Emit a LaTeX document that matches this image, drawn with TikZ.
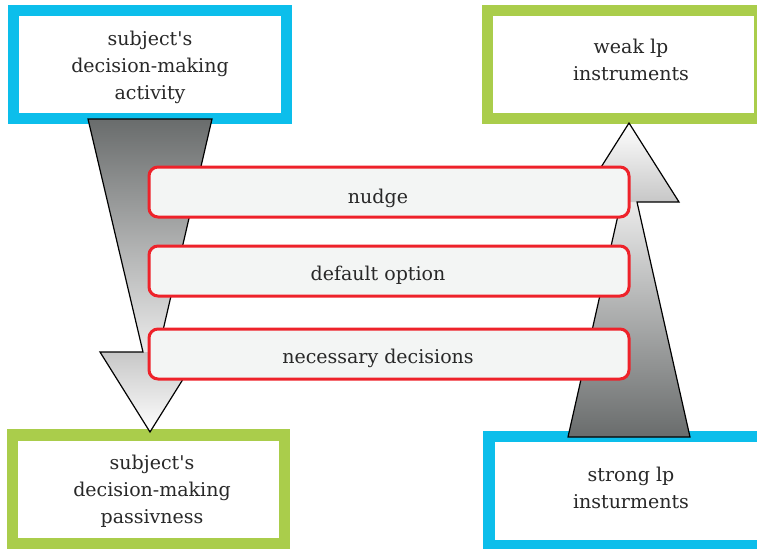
\documentclass[tikz,border=0pt]{standalone}
\usepackage{fontspec}
\setmainfont{DejaVu Serif}[Ligatures=TeXOff]
\definecolor{bluebx}{RGB}{12,190,235}
\definecolor{greenbx}{RGB}{170,205,75}
\definecolor{redbx}{RGB}{238,34,42}
\definecolor{fillbx}{RGB}{243,245,244}
\definecolor{darkar}{RGB}{105,108,108}
\definecolor{txt}{RGB}{40,40,40}
\tikzset{
  lbl/.style={align=center, text=txt, font=\fontsize{19}{27}\selectfont, inner sep=0pt, anchor=base},
  optbox/.style={draw=redbx, line width=3pt, fill=fillbx, rounded corners=9pt, minimum width=480pt, minimum height=50pt, inner sep=0pt},
  arrline/.style={draw=black, line width=1.2pt, line join=miter},
}
\begin{document}
\begin{tikzpicture}[x=1pt,y=-1pt]
\useasboundingbox (0,0) rectangle (757,549);
% frame boxes
\fill[bluebx] (8,5) rectangle (292,124);
\fill[white] (19,16) rectangle (281,113);
\fill[greenbx] (482,5) rectangle (757,124);
\fill[white] (493,16) rectangle (754,113);
\fill[greenbx] (7,429) rectangle (290,549);
\fill[white] (18,441) rectangle (279,538);
\fill[bluebx] (483,431) rectangle (757,549);
\fill[white] (495,442) rectangle (757,540);
% box labels (anchor = baseline of last line)
\node[lbl] (act) at (150,99) {subject's\\decision-making\\activity};
\node[lbl] (weak) at (631,80) {weak lp\\instruments};
\node[lbl] (pas) at (152,523) {subject's\\decision-making\\passivness};
\node[lbl] (strong) at (631,508) {strong lp\\insturments};
% left arrow (down)
\shade[top color=darkar, bottom color=black!8] (88,119) -- (212,119) -- (158,352) -- (143,352) -- cycle;
\shade[top color=black!22, bottom color=white] (100,352) -- (200,352) -- (150,432) -- cycle;
\draw[arrline] (88,119) -- (212,119) -- (158,352) -- (200,352) -- (150,432) -- (100,352) -- (143,352) -- cycle;
% right arrow (up)
\shade[bottom color=darkar, top color=black!8] (568,437) -- (690,437) -- (637,202) -- (621,202) -- cycle;
\shade[bottom color=black!22, top color=white] (579,202) -- (679,202) -- (629,123) -- cycle;
\draw[arrline] (568,437) -- (690,437) -- (637,202) -- (679,202) -- (629,123) -- (579,202) -- (621,202) -- cycle;
% option boxes
\node[optbox] (nudge) at (389,192) {};
\node[lbl] (tnudge) at (378,203) {nudge};
\node[optbox] (def) at (389,271) {};
\node[lbl] (tdef) at (378,280) {default option};
\node[optbox] (nec) at (389,354) {};
\node[lbl] (tnec) at (378,363) {necessary decisions};
\end{tikzpicture}
\end{document}
